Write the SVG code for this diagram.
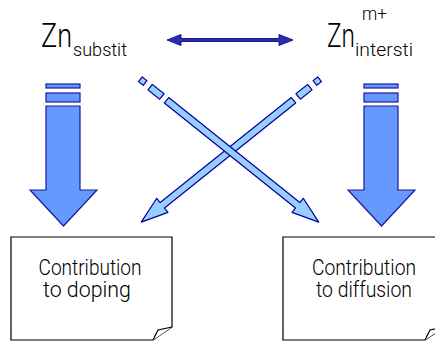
<svg xmlns="http://www.w3.org/2000/svg" width="435" height="343" viewBox="0 0 435 343">
<style>
.big{fill:#6699ff;stroke:#1a1a99;stroke-width:1.2;stroke-linejoin:miter}
.diag{fill:#99ccff;stroke:#000099;stroke-width:1.2;stroke-linejoin:round}
.dbl{fill:#2b2bb0;stroke:#1a1a8c;stroke-width:1}
.box{fill:#ffffff;stroke:#000000;stroke-width:1.2;stroke-linejoin:miter}
.t{font-family:Roboto,"Liberation Sans",Arial,sans-serif;font-weight:300;fill:#000000}
.bt{font-family:Roboto,"Liberation Sans",Arial,sans-serif;font-weight:300;fill:#000000;font-size:22px;text-anchor:middle}
</style>
<defs>
<g id="diagArrow">
<path class="diag" d="M0.5,-3 H6.5 V3 H0.5 Z"/>
<path class="diag" d="M13,-3.5 H28 V3.5 H13 Z"/>
<path class="diag" d="M34,-3.5 H202 V-9 L229,0 L202,9 V3.5 H34 Z"/>
</g>
</defs>
<g id="zn-substit">
<text class="t" x="41" y="47" font-size="33" textLength="31" lengthAdjust="spacingAndGlyphs">Zn</text>
<text class="t" x="73" y="56" font-size="18" textLength="54" lengthAdjust="spacingAndGlyphs">substit</text>
</g>
<g id="zn-intersti">
<text class="t" x="327" y="47" font-size="33" textLength="28" lengthAdjust="spacingAndGlyphs">Zn</text>
<text class="t" x="362" y="20" font-size="18" textLength="25" lengthAdjust="spacingAndGlyphs">m+</text>
<text class="t" x="355" y="56" font-size="18" textLength="58" lengthAdjust="spacingAndGlyphs">intersti</text>
</g>
<g id="box-doping">
<path class="box" d="M11,237 H172 V327 L153,340 H11 Z"/>
<path class="box" d="M172,327 L158,330 L153,340"/>
<text class="bt" x="90" y="275" textLength="103" lengthAdjust="spacingAndGlyphs">Contribution</text>
<text class="bt" x="87" y="297" textLength="88" lengthAdjust="spacingAndGlyphs">to doping</text>
</g>
<g id="box-diffusion">
<path class="box" d="M283,237 H444 V327 L425,340 H283 Z"/>
<path class="box" d="M444,327 L430,330 L425,340"/>
<text class="bt" x="364" y="275" textLength="104" lengthAdjust="spacingAndGlyphs">Contribution</text>
<text class="bt" x="364" y="297" textLength="96" lengthAdjust="spacingAndGlyphs">to diffusion</text>
</g>
<g id="connectors">
<path class="dbl" d="M167,40 L181,34.5 V38.5 H279 V34.5 L293,40 L279,45.5 V41.5 H181 V45.5 Z"/>
<g id="arrow-substit-doping">
<rect class="big" x="46" y="84" width="34" height="4"/>
<rect class="big" x="46" y="93" width="34" height="9"/>
<path class="big" d="M46,106 H80 V190 H97 L63.5,226 L30,190 H46 Z"/>
</g>
<g id="arrow-intersti-diffusion">
<rect class="big" x="364" y="84" width="34" height="4"/>
<rect class="big" x="364" y="93" width="34" height="9"/>
<path class="big" d="M364,106 H398 V190 H415 L381.5,226 L348,190 H364 Z"/>
</g>
<g id="arrow-intersti-doping" transform="translate(460,0) scale(-1,1) translate(140,79) rotate(38.7)">
<use href="#diagArrow"/>
</g>
<g id="arrow-substit-diffusion" transform="translate(140,79) rotate(38.7)">
<use href="#diagArrow"/>
</g>
</g>
</svg>
